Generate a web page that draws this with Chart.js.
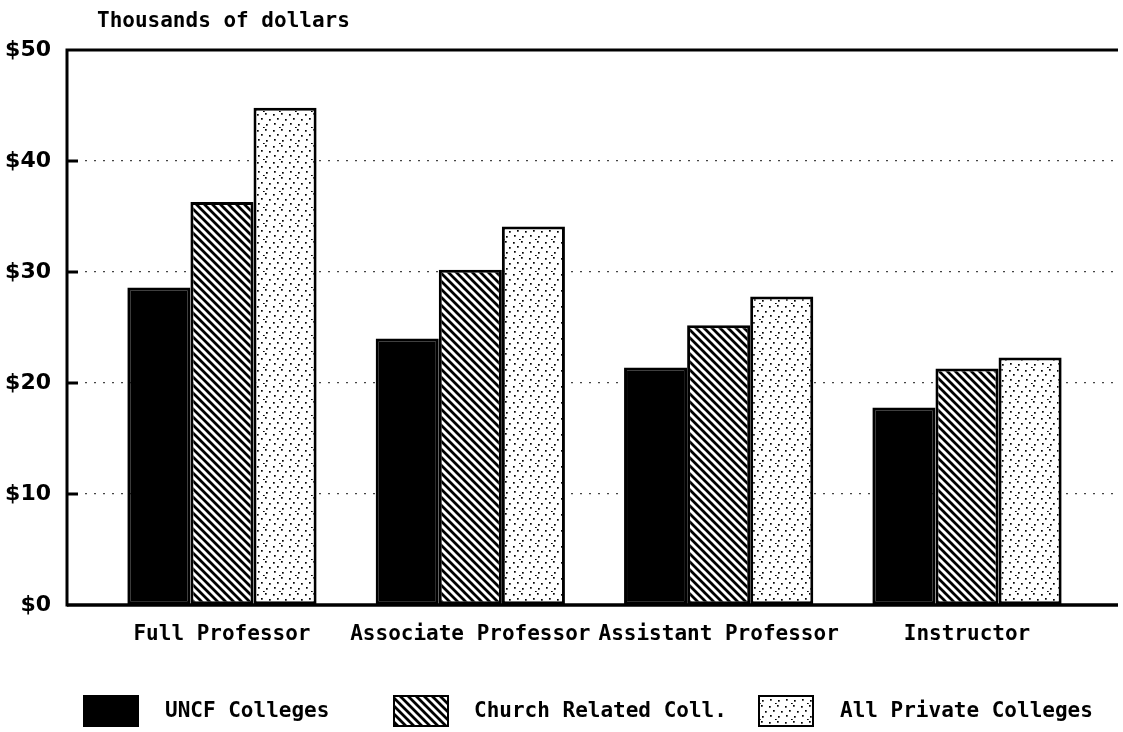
<!DOCTYPE html>
<html><head><meta charset="utf-8">
<script src="https://cdn.jsdelivr.net/npm/chart.js@4"></script>
<style>html,body{margin:0;padding:0;background:#fff}#wrap{width:1123px;height:732px}</style>
</head><body><div id="wrap"><canvas id="c" width="1123" height="732"></canvas></div>
<script>
const categories = ['Full Professor', 'Associate Professor', 'Assistant Professor', 'Instructor'];
const seriesNames = ['UNCF Colleges', 'Church Related Coll.', 'All Private Colleges'];
const uncf = [28.6, 24.0, 21.4, 17.8];
const church = [36.3, 30.2, 25.2, 21.3];
const allPrivate = [44.8, 34.1, 27.8, 22.3];
const yTicks = [0, 10, 20, 30, 40, 50];
const yTitle = 'Thousands of dollars';

const FONT = '"DejaVu Sans Mono", "Liberation Mono", monospace';

function hatchPattern() {
  const s = 8, c = document.createElement('canvas');
  c.width = s; c.height = s;
  const g = c.getContext('2d');
  g.fillStyle = '#fff'; g.fillRect(0, 0, s, s);
  g.strokeStyle = '#000'; g.lineWidth = 2.8;
  g.beginPath();
  g.moveTo(-1, -1); g.lineTo(s + 1, s + 1);
  g.moveTo(-1, s - 1); g.lineTo(1, s + 1);
  g.moveTo(s - 1, -1); g.lineTo(s + 1, 1);
  g.stroke();
  return g.createPattern(c, 'repeat');
}
function stipplePattern() {
  const s = 16, c = document.createElement('canvas');
  c.width = s; c.height = s;
  const g = c.getContext('2d');
  g.fillStyle = '#fff'; g.fillRect(0, 0, s, s);
  g.fillStyle = '#000';
  [[1,2],[9,1],[5,6],[13,7],[2,11],[10,12],[7,15]].forEach(p => g.fillRect(p[0], p[1], 1.7, 1.7));
  return g.createPattern(c, 'repeat');
}
const fills = ['#000', hatchPattern(), stipplePattern()];
const seriesData = [uncf, church, allPrivate];

const framePlugin = {
  id: 'frame',
  afterDatasetsDraw(chart) {
    const {ctx, chartArea: a, scales: {y}} = chart;
    ctx.save();
    ctx.strokeStyle = '#000';
    ctx.lineWidth = 3;
    ctx.beginPath();
    ctx.moveTo(a.left, a.top); ctx.lineTo(a.right, a.top);
    ctx.moveTo(a.left, a.top - 1.5); ctx.lineTo(a.left, a.bottom + 1.5);
    ctx.stroke();
    ctx.lineWidth = 3.5;
    ctx.beginPath();
    ctx.moveTo(a.left, a.bottom); ctx.lineTo(a.right, a.bottom);
    ctx.stroke();
    ctx.lineWidth = 3;
    ctx.beginPath();
    yTicks.slice(1, -1).forEach(v => {
      const py = y.getPixelForValue(v);
      ctx.moveTo(a.left, py); ctx.lineTo(a.left + 11, py);
    });
    ctx.stroke();
    ctx.restore();
  },
  afterDraw(chart) {
    const {ctx, chartArea: a} = chart;
    ctx.save();
    ctx.fillStyle = '#000';
    ctx.font = 'bold 21px ' + FONT;
    ctx.textBaseline = 'middle';
    ctx.textAlign = 'left';
    ctx.fillText(yTitle, a.left + 30, 22);
    const items = [{bx: 83, tx: 165}, {bx: 393, tx: 474}, {bx: 758, tx: 840}];
    chart.data.datasets.forEach((ds, i) => {
      const it = items[i];
      ctx.fillStyle = ds.backgroundColor;
      ctx.fillRect(it.bx, 695, 56, 32);
      ctx.strokeStyle = '#000'; ctx.lineWidth = 2;
      ctx.strokeRect(it.bx + 1, 696, 54, 30);
      ctx.fillStyle = '#000';
      ctx.fillText(ds.label, it.tx, 712);
    });
    ctx.restore();
  }
};

new Chart(document.getElementById('c'), {
  type: 'bar',
  data: {
    datasets: seriesNames.map((name, i) => ({
      label: name,
      data: seriesData[i].map((v, j) => ({x: j, y: v})),
      backgroundColor: fills[i],
      borderColor: '#000',
      borderWidth: 3,
      borderSkipped: false,
      categoryPercentage: 0.762,
      barPercentage: 1.0
    }))
  },
  options: {
    responsive: false,
    animation: false,
    devicePixelRatio: 1,
    layout: {padding: {top: 50, right: 5, bottom: 0, left: 0}},
    plugins: {legend: {display: false}, tooltip: {enabled: false}, title: {display: false}},
    scales: {
      x: {
        type: 'linear',
        offset: false,
        min: -0.624,
        max: 3.608,
        afterFit(s) { s.height = 127; },
        afterBuildTicks(s) { s.ticks = categories.map((c, i) => ({value: i})); },
        grid: {display: false, drawTicks: false, offset: false},
        border: {display: false},
        ticks: {
          autoSkip: false, maxRotation: 0, padding: 17, color: '#000',
          font: {family: FONT, size: 21, weight: 'bold'},
          callback: v => categories[v]
        }
      },
      y: {
        min: 0, max: 50,
        afterFit(s) { s.width = 67; },
        afterBuildTicks(s) { s.ticks = yTicks.map(v => ({value: v})); },
        grid: {
          drawTicks: false,
          color: c => (c.tick && (c.tick.value === 0 || c.tick.value === 50)) ? 'rgba(0,0,0,0)' : '#444',
          lineWidth: 1.3
        },
        border: {display: false, dash: [2, 7]},
        ticks: {
          padding: 16, color: '#000',
          font: {family: '"DejaVu Sans", sans-serif', size: 22, weight: 'bold'},
          callback: v => '$' + v
        }
      }
    }
  },
  plugins: [framePlugin]
});
</script></body></html>
